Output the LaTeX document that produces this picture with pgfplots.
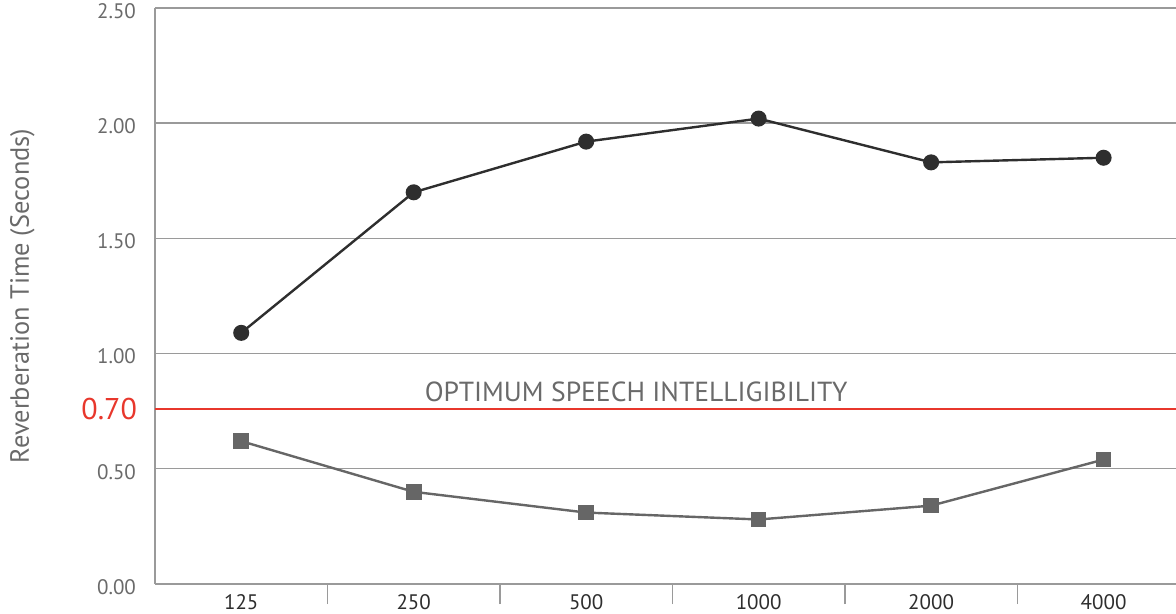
\documentclass[border=0pt]{standalone}
\usepackage{pgfplots}
\pgfplotsset{compat=1.18}
\usepackage{fontspec}
\setmainfont{PT Sans}
\definecolor{gridgray}{HTML}{9A9A9A}
\definecolor{labgray}{HTML}{6A6A6A}
\definecolor{darkln}{HTML}{2E2E2E}
\definecolor{sqgray}{HTML}{666666}
\definecolor{optred}{HTML}{E8372C}
\begin{document}
\begin{tikzpicture}
\begin{axis}[
name=main,
at={(0,0)}, anchor=south west,
scale only axis,
width=510.5pt, height=288pt,
xmin=-0.5, xmax=5.42,
ymin=0, ymax=2.5,
axis x line=bottom,
axis y line=left,
axis line style={-, gridgray, line width=0.8pt},
/pgf/number format/assume math mode=true,
ytick={0,0.5,1,1.5,2,2.5},
yticklabel style={/pgf/number format/fixed, /pgf/number format/fixed zerofill, /pgf/number format/precision=2,
  text=labgray, font=\fontsize{10.5}{12}\selectfont, xshift=-6pt, yshift=-1.5pt},
ymajorgrids,
major grid style={gridgray, line width=0.7pt},
xtick={0,...,5},
xticklabels={125,250,500,1000,2000,4000},
xticklabel style={text=darkln, font=\fontsize{10.5}{12}\selectfont, yshift=-1.5pt},
minor xtick={0.5,1.5,2.5,3.5,4.5},
major tick length=0pt,
minor tick length=10pt,
tick align=outside,
minor tick style={gridgray, line width=0.8pt},
extra y ticks={0.76},
extra y tick labels={0.70},
extra y tick style={grid=none, yticklabel style={text=optred, font=\fontsize{15}{17}\selectfont, xshift=0.5pt, yshift=1.5pt}},
ylabel={Reverberation Time (Seconds)},
ylabel style={at={(axis description cs:-0.13,0.5)}, anchor=center, text=labgray, font=\fontsize{13.2}{15}\selectfont},
clip=false,
]
\addplot[optred, line width=0.9pt] coordinates {(-0.5,0.76) (5.42,0.76)};
\node[text=labgray, font=\fontsize{13.8}{16}\selectfont] at (axis cs:2.29,0.835) {OPTIMUM SPEECH INTELLIGIBILITY};

\addplot[darkln, line width=1.2pt, mark=*, mark size=3.4pt, mark options={fill=darkln, draw=darkln}]
coordinates {(0,1.09) (1,1.70) (2,1.92) (3,2.02) (4,1.83) (5,1.85)};

\addplot[sqgray, line width=1.2pt, mark=square*, mark size=3.3pt, mark options={fill=sqgray, draw=sqgray}]
coordinates {(0,0.62) (1,0.40) (2,0.31) (3,0.28) (4,0.34) (5,0.54)};
\end{axis}
\pgfresetboundingbox
\useasboundingbox (-77.5pt,-15pt) rectangle (510.5pt,292pt);
\end{tikzpicture}
\end{document}
